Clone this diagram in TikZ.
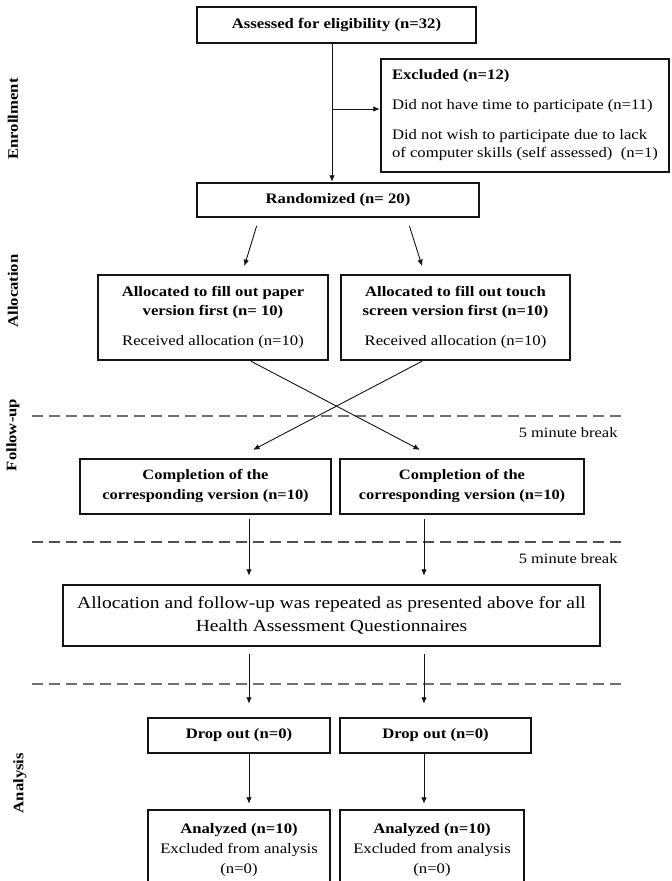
\documentclass[tikz,border=0pt]{standalone}
\usepackage{fontspec}
\setmainfont{Liberation Serif}[FakeStretch=1.15]
\usetikzlibrary{arrows.meta}
\definecolor{ink}{HTML}{141414}
\definecolor{quiet}{HTML}{707070}
\newcommand{\fs}[2]{\fontsize{#1}{#2}\selectfont}
\tikzset{>=Latex,
  box/.style={draw=ink,line width=2.5pt,inner sep=0pt,align=center,font=\fs{14.5}{19}},
  arr/.style={draw=ink,line width=0.9pt,-{Latex[length=6.5pt,width=5.5pt]}},
  sepThin/.style={draw=quiet,line width=1.3pt,dash pattern=on 11pt off 6pt},
  sepBold/.style={draw=ink!75,line width=2.4pt,dash pattern=on 11pt off 6pt},
  side/.style={rotate=90,font=\bfseries\fs{14.5}{16}},
  note/.style={anchor=east,font=\fs{14.3}{16}}}

\begin{document}
\begin{tikzpicture}[x=1pt,y=-1pt]
  \useasboundingbox (0,0) rectangle (672,881);
  % stage labels
  \node[side] (sEnr) at (13,119) {Enrollment};
  \node[side] (sAll) at (13,291) {Allocation};
  \node[side] (sFol) at (13,435) {Follow-up};
  \node[side] (sAna) at (20,783) {Analysis};
  % separators
  \draw[sepThin] (32,416)--(624,416);
  \draw[sepBold] (32,542)--(624,542);
  \draw[sepThin] (32,684)--(624,684);
  \node[note] (brk1) at (621,433) {5 minute break};
  \node[note] (brk2) at (621,559) {5 minute break};
  % boxes
  \node[box,minimum width=279,minimum height=36] (assess) at (336.5,25)
    {\textbf{Assessed for eligibility (n=32)}};
  \node[box,align=left,minimum width=288,minimum height=113,font=\fs{14.5}{18}] (excl) at (525,115.5)
    {\textbf{Excluded (n=12)}\\[12pt]Did not have time to participate (n=11)\\[12pt]Did not wish to participate due to lack\\of computer skills (self assessed)~~(n=1)};
  \node[box,minimum width=282,minimum height=34] (rand) at (338,200)
    {\textbf{Randomized (n= 20)}};
  \node[box,minimum width=230,minimum height=85] (paper) at (213,317.5)
    {\textbf{Allocated to fill out paper}\\\textbf{version first (n= 10)}\\[11pt]Received allocation (n=10)};
  \node[box,minimum width=229,minimum height=85] (touch) at (455.5,317.5)
    {\textbf{Allocated to fill out touch}\\\textbf{screen version first (n=10)}\\[11pt]Received allocation (n=10)};
  \node[box,minimum width=251,minimum height=55,font=\bfseries\fs{14.3}{20}] (compL) at (205.5,486.5)
    {Completion of the\\corresponding version (n=10)};
  \node[box,minimum width=244,minimum height=55,font=\bfseries\fs{14.3}{20}] (compR) at (462,486.5)
    {Completion of the\\corresponding version (n=10)};
  \node[box,minimum width=537,minimum height=61,font=\fs{17}{23}] (big) at (331.5,615.5)
    {Allocation and follow-up was repeated as presented above for all\\Health Assessment Questionnaires};
  \node[box,minimum width=182,minimum height=35,font=\bfseries\fs{14.5}{19}] (dropL) at (239,735.5) {Drop out (n=0)};
  \node[box,minimum width=191,minimum height=35,font=\bfseries\fs{14.5}{19}] (dropR) at (435.5,735.5) {Drop out (n=0)};
  \node[box,minimum width=182,minimum height=80,font=\fs{14.5}{20}] (anaL) at (239,850)
    {\textbf{Analyzed (n=10)}\\Excluded from analysis\\(n=0)};
  \node[box,minimum width=184,minimum height=80,font=\fs{14.5}{20}] (anaR) at (432,850)
    {\textbf{Analyzed (n=10)}\\Excluded from analysis\\(n=0)};
  % flow
  \coordinate (colM) at (332,0);
  \coordinate (colL) at (249,0);
  \coordinate (colR) at (424,0);
  \coordinate (split) at (332,109);
  \draw[arr] (assess.south -| colM) -- (rand.north -| colM);
  \draw[arr] (split) -- (split -| excl.west);
  \draw[arr,shorten <=8pt,shorten >=8pt] ([xshift=-79pt]rand.south) -- ([xshift=29pt]paper.north);
  \draw[arr,shorten <=8pt,shorten >=8pt] ([xshift=69pt]rand.south) -- ([xshift=-31pt]touch.north);
  \draw[arr,shorten >=17pt] ([xshift=38pt]paper.south) -- ([xshift=-27pt]compR.north);
  \draw[arr,shorten >=17pt] ([xshift=-33.5pt]touch.south) -- ([xshift=32.5pt]compL.north);
  \draw[arr,shorten <=4pt,shorten >=8pt] (compL.south -| colL) -- (big.north -| colL);
  \draw[arr,shorten <=4pt,shorten >=8pt] (compR.south -| colR) -- (big.north -| colR);
  \draw[arr,shorten <=7pt,shorten >=13pt] (big.south -| colL) -- (dropL.north -| colL);
  \draw[arr,shorten <=7pt,shorten >=13pt] (big.south -| colR) -- (dropR.north -| colR);
  \draw[arr,shorten >=5pt] (dropL.south -| colL) -- (anaL.north -| colL);
  \draw[arr,shorten >=5pt] (dropR.south -| colR) -- (anaR.north -| colR);
\end{tikzpicture}
\end{document}
